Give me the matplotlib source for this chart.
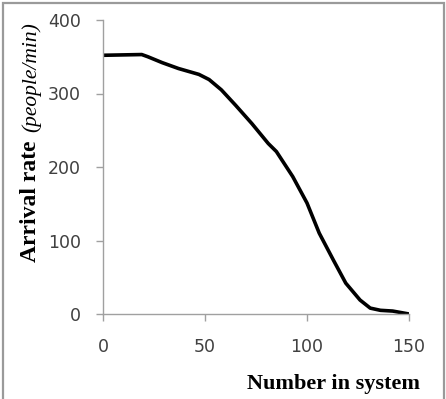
import matplotlib.pyplot as plt
from matplotlib.patches import Rectangle

# values
number_in_system = [0, 19, 22, 29, 37, 47, 52, 58, 65, 73, 81, 85, 93, 100,
                    106, 113, 119, 126, 131, 136, 142, 150]
arrival_rate = [352, 353, 350, 342, 334, 326, 319, 305, 284, 259, 232, 221, 187, 151,
                110, 73, 42, 19, 8, 5, 4, 0]

x_ticks = [0, 50, 100, 150]
y_ticks = [0, 100, 200, 300, 400]

W, H = 446, 399
fig = plt.figure(figsize=(W / 100, H / 100), dpi=100)
ax = fig.add_axes([103 / W, 85 / H, 306 / W, 294 / H])

ax.plot(number_in_system, arrival_rate, color="black", lw=2.6,
        solid_capstyle="round", solid_joinstyle="round")

ax.set_xlim(0, 150)
ax.set_ylim(0, 400)
ax.set_xticks(x_ticks)
ax.set_yticks(y_ticks)

for side in ["top", "right"]:
    ax.spines[side].set_visible(False)
for side in ["left", "bottom"]:
    ax.spines[side].set_color("#a0a0a0")
    ax.spines[side].set_linewidth(1)

ax.tick_params(direction="out", length=5, width=1, color="#a0a0a0",
               labelsize=12.5, labelcolor="#404040")
ax.tick_params(axis="x", pad=12)
ax.tick_params(axis="y", pad=11)

fig.text(30 / W, 1 - 201 / H, "Arrival rate", rotation=90, ha="center", va="center",
         family="Liberation Serif", weight="bold", fontsize=17)
fig.text(31 / W, 1 - 77 / H, "(people/min)", rotation=90, ha="center", va="center",
         family="Liberation Serif", style="italic", fontsize=15.5)
fig.text(420 / W, 1 - 384 / H, "Number in system", ha="right", va="center",
         family="Liberation Serif", weight="bold", fontsize=16)

border = Rectangle((2.5 / W, -0.02), 441 / W, 1.02 - 2.5 / H, transform=fig.transFigure,
                   fill=False, edgecolor="#9a9a9a", lw=1.6, clip_on=False)
fig.patches.append(border)

fig.savefig("out.png", dpi=100, facecolor="white")
